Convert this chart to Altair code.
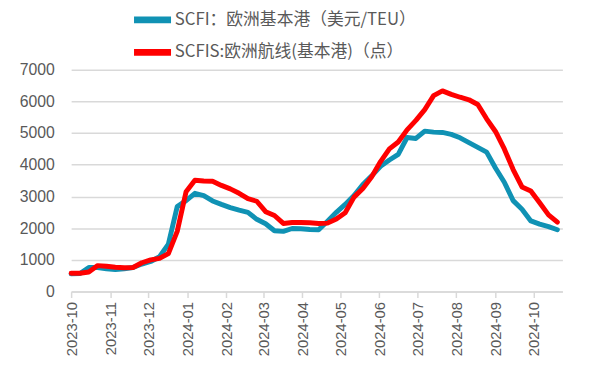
import altair as alt
import pandas as pd

start = "2023-10-01"
n_weeks = 56

scfi = [560, 570, 760, 760, 720, 700, 720, 760, 870, 950,
        1100, 1500, 2680, 2870, 3100, 3030, 2860, 2750, 2650, 2570,
        2500, 2280, 2140, 1920, 1900, 1990, 1980, 1960, 1950, 2220,
        2500, 2750, 3030, 3380, 3650, 3950, 4150, 4330, 4860, 4830,
        5060, 5030, 5020, 4960, 4850, 4700, 4550, 4400, 3900, 3450,
        2870, 2600, 2230, 2130, 2050, 1950]

scfis = [580, 580, 620, 820, 800, 770, 750, 760, 910, 1000,
         1050, 1200, 1900, 3150, 3510, 3490, 3480, 3350, 3240, 3100,
         2930, 2850, 2520, 2400, 2150, 2180, 2180, 2170, 2150, 2160,
         2290, 2490, 2980, 3250, 3620, 4100, 4500, 4720, 5100, 5400,
         5740, 6180, 6330, 6220, 6130, 6050, 5900, 5450, 5050, 4500,
         3850, 3300, 3170, 2800, 2420, 2190]

name1 = "SCFI：欧洲基本港（美元/TEU）"
name2 = "SCFIS:欧洲航线(基本港)（点）"

dates = pd.date_range(start, periods=n_weeks, freq="7D")
df = pd.concat([
    pd.DataFrame({"date": dates.strftime("%Y-%m-%d"), "value": scfi, "series": name1, "order": 0}),
    pd.DataFrame({"date": dates.strftime("%Y-%m-%d"), "value": scfis, "series": name2, "order": 1}),
])

tick_months = [(2023, 10), (2023, 11), (2023, 12)] + [(2024, m) for m in range(1, 11)]
tick_values = [alt.DateTime(year=y, month=m, date=1, utc=True) for y, m in tick_months]

gray = "#595959"
font = "Noto Sans CJK SC"

chart = alt.Chart(df).mark_line(strokeWidth=5, strokeJoin="round", strokeCap="round").encode(
    x=alt.X("date:T",
            scale=alt.Scale(type="utc", domain=[alt.DateTime(year=2023, month=10, date=1, utc=True),
                                                alt.DateTime(year=2024, month=10, date=24, utc=True)]),
            axis=alt.Axis(values=tick_values, format="%Y-%m", labelAngle=-90, labelAlign="right",
                          labelBaseline="middle", labelFontSize=15, labelColor=gray, labelFont="Liberation Sans",
                          domainColor="#D9D9D9", domainWidth=1.5, tickColor="#D9D9D9", tickWidth=1.5,
                          tickSize=6, grid=False, title=None, labelPadding=4, labelOverlap=False)),
    y=alt.Y("value:Q", scale=alt.Scale(domain=[0, 7000]),
            axis=alt.Axis(values=list(range(0, 7001, 1000)), format="d", labelFontSize=16, labelColor=gray,
                          labelFont="Liberation Sans", domain=False, ticks=False, gridColor="#D9D9D9",
                          gridWidth=1.5, title=None, labelPadding=17)),
    color=alt.Color("series:N", sort=[name1, name2],
                    scale=alt.Scale(domain=[name1, name2], range=["#1092B4", "#FF0000"]),
                    legend=alt.Legend(orient="none", legendX=64, legendY=-69, title=None,
                                      symbolType="M-1.25,0H1.25", symbolStrokeWidth=7, symbolSize=900,
                                      labelFontSize=17, labelColor=gray, labelFont=font,
                                      labelLimit=400, rowPadding=-2, padding=0, labelOffset=4)),
    order="order:Q",
    detail="series:N",
).properties(
    width=498, height=225,
    autosize=alt.AutoSizeParams(type="none"),
    padding={"left": 64, "top": 60, "right": 30, "bottom": 80},
).configure_view(stroke=None)

chart.save("out.html", embed_options={"renderer": "svg", "actions": False})
